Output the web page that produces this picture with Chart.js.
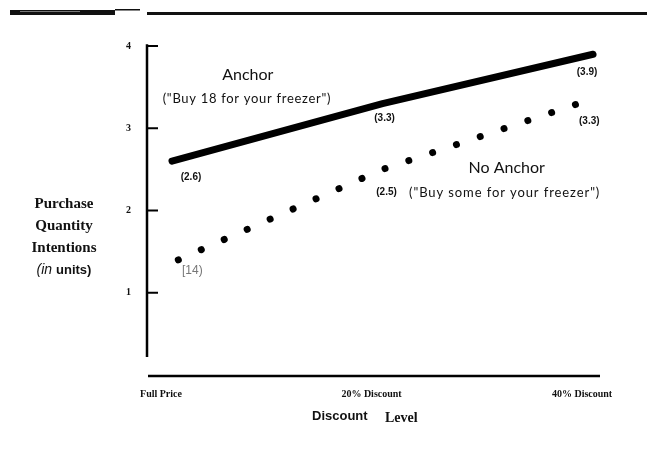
<!DOCTYPE html>
<html>
<head>
<meta charset="utf-8">
<script src="https://cdn.jsdelivr.net/npm/chart.js@4/dist/chart.umd.min.js"></script>
<style>
  html, body { margin: 0; padding: 0; background: #fff; }
  #wrap { width: 647px; height: 455px; }
</style>
</head>
<body>
<div id="wrap"><canvas id="chart"></canvas></div>
<script>
// discount levels (x positions 0, 1, 2)
const categories = ['Full Price', '20% Discount', '40% Discount'];
const anchorX = [0, 1, 2];
const anchorValues = [2.6, 3.3, 3.9];
const anchorLabels = ['(2.6)', '(3.3)', '(3.9)'];
const noAnchorX = [0.03, 1, 1.93];
const noAnchorValues = [1.4, 2.5, 3.3];
const noAnchorLabels = ['[14)', '(2.5)', '(3.3)'];
const yTicks = [1, 2, 3, 4];

const toPoints = (xs, ys) => xs.map((x, i) => ({ x: x, y: ys[i] }));

// offsets of the value labels from their points
const anchorLabelOffsets = [[19, 16], [2, 15], [-6, 18]];
const noAnchorLabelOffsets = [[14, 11], [4, 23], [11, 18]];

const decor = {
    id: 'decor',
    afterDraw(chart) {
        const ctx = chart.ctx;
        const xs = chart.scales.x;
        const ys = chart.scales.y;
        const left = chart.chartArea.left;
        ctx.save();

        // rules at the top of the page
        ctx.fillStyle = '#111';
        ctx.fillRect(10, 10, 105, 5);
        ctx.fillStyle = '#777';
        ctx.fillRect(20, 11, 60, 1);
        ctx.fillStyle = '#111';
        ctx.fillRect(115, 9, 25, 1.5);
        ctx.fillRect(147, 12, 500, 3);

        // axes
        ctx.strokeStyle = '#000';
        ctx.lineWidth = 2.5;
        ctx.beginPath();
        ctx.moveTo(left - 1, ys.getPixelForValue(4.02));
        ctx.lineTo(left - 1, ys.getPixelForValue(0.22));
        ctx.stroke();
        ctx.beginPath();
        ctx.moveTo(left, ys.getPixelForValue(0) + 1);
        ctx.lineTo(chart.chartArea.right, ys.getPixelForValue(0) + 1);
        ctx.stroke();
        ctx.lineWidth = 2;
        yTicks.forEach(v => {
            const y = ys.getPixelForValue(v);
            ctx.beginPath();
            ctx.moveTo(left - 1, y);
            ctx.lineTo(left + 10, y);
            ctx.stroke();
        });

        // value labels
        ctx.fillStyle = '#111';
        ctx.textAlign = 'center';
        ctx.textBaseline = 'middle';
        ctx.font = 'bold 10px "Liberation Sans"';
        const m0 = chart.getDatasetMeta(0).data;
        m0.forEach((p, i) => {
            ctx.fillText(anchorLabels[i], p.x + anchorLabelOffsets[i][0], p.y + anchorLabelOffsets[i][1]);
        });
        const m1 = chart.getDatasetMeta(1).data;
        m1.forEach((p, i) => {
            if (i === 0) {
                ctx.fillStyle = '#777';
                ctx.font = '12px "Liberation Sans"';
            } else {
                ctx.fillStyle = '#111';
                ctx.font = 'bold 10px "Liberation Sans"';
            }
            ctx.fillText(noAnchorLabels[i], p.x + noAnchorLabelOffsets[i][0], p.y + noAnchorLabelOffsets[i][1]);
        });

        // series names
        ctx.fillStyle = '#111';
        ctx.font = '16px "Lato"';
        ctx.fillText('Anchor', xs.getPixelForValue(0.36), ys.getPixelForValue(3.65));
        ctx.font = '13px "Lato"';
        ctx.letterSpacing = '0.7px';
        ctx.fillText('("Buy 18 for your freezer")', xs.getPixelForValue(0.356), ys.getPixelForValue(3.36));
        ctx.letterSpacing = '0px';
        ctx.font = '16px "Lato"';
        ctx.fillText('No Anchor', xs.getPixelForValue(1.59), ys.getPixelForValue(2.52));
        ctx.font = '13px "Lato"';
        ctx.letterSpacing = '0.9px';
        ctx.fillText('("Buy some for your freezer")', xs.getPixelForValue(1.58), ys.getPixelForValue(2.22));
        ctx.letterSpacing = '0px';

        // y title
        ctx.font = 'bold 15px "Liberation Serif"';
        ctx.fillText('Purchase', left - 84, 204);
        ctx.fillText('Quantity', left - 84, 226);
        ctx.fillText('Intentions', left - 84, 248);
        ctx.textAlign = 'left';
        ctx.font = 'italic 14px "Liberation Sans"';
        const w1 = ctx.measureText('(in ').width;
        ctx.font = 'bold 13px "Liberation Sans"';
        const w2 = ctx.measureText('units)').width;
        const sx = left - 84 - (w1 + w2) / 2;
        ctx.font = 'italic 14px "Liberation Sans"';
        ctx.fillText('(in ', sx, 270);
        ctx.font = 'bold 13px "Liberation Sans"';
        ctx.fillText('units)', sx + w1, 270);

        // x title
        ctx.font = 'bold 13px "Liberation Sans"';
        ctx.fillText('Discount', 312, 416);
        ctx.font = 'bold 14px "Liberation Serif"';
        ctx.fillText('Level', 385, 418);

        ctx.restore();
    }
};

new Chart(document.getElementById('chart'), {
    type: 'line',
    data: {
        datasets: [
            {
                label: 'Anchor',
                data: toPoints(anchorX, anchorValues),
                borderColor: '#000',
                borderWidth: 7,
                borderCapStyle: 'round',
                borderJoinStyle: 'round',
                pointRadius: 0,
                tension: 0
            },
            {
                label: 'No Anchor',
                data: toPoints(noAnchorX, noAnchorValues),
                borderColor: '#000',
                borderWidth: 7,
                borderCapStyle: 'round',
                borderDash: [0.01, 25.1],
                pointRadius: 0,
                tension: 0
            }
        ]
    },
    options: {
        responsive: true,
        maintainAspectRatio: false,
        animation: false,
        layout: { padding: { top: 46, right: 47, left: 0, bottom: 0 } },
        plugins: {
            legend: { display: false },
            tooltip: { enabled: false }
        },
        scales: {
            x: {
                type: 'linear',
                min: -0.114,
                max: 2.033,
                afterBuildTicks: (scale) => { scale.ticks = anchorX.map(v => ({ value: v })); },
                afterFit: (scale) => { scale.height = 80; },
                grid: { display: false },
                border: { display: false },
                ticks: {
                    padding: 5,
                    labelOffset: -11,
                    maxRotation: 0,
                    autoSkip: false,
                    color: '#111',
                    font: { family: 'Liberation Serif', size: 10, weight: 'bold' },
                    callback: (v) => categories[v]
                }
            },
            y: {
                min: 0,
                max: 4,
                afterBuildTicks: (scale) => { scale.ticks = yTicks.map(v => ({ value: v })); },
                afterFit: (scale) => { scale.width = 148; },
                grid: { display: false },
                border: { display: false },
                ticks: {
                    padding: 9,
                    color: '#111',
                    font: { family: 'Liberation Serif', size: 10, weight: 'bold' }
                }
            }
        }
    },
    plugins: [decor]
});
</script>
</body>
</html>
